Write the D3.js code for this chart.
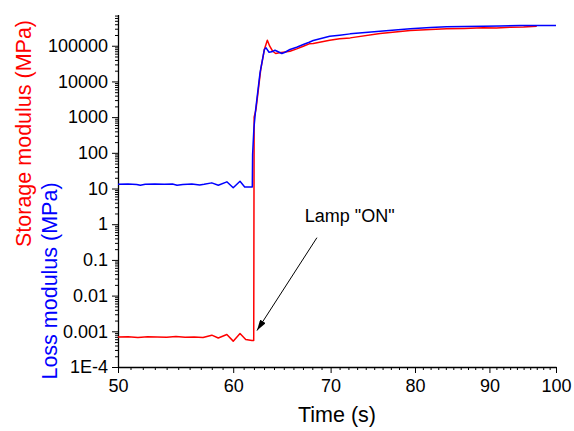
<!DOCTYPE html>
<html>
<head>
<meta charset="utf-8">
<script src="https://cdn.jsdelivr.net/npm/d3@7"></script>
<style>
  html, body { margin: 0; padding: 0; background: #fff; }
  svg { display: block; font-family: "Liberation Sans", Arial, sans-serif; }
</style>
</head>
<body>
<svg id="chart" width="574" height="431"></svg>
<script>
// Storage modulus E' (MPa) versus time (s)
const storageTime = [50, 50.8, 51.6, 52.4, 53.2, 54.0, 54.8, 55.6, 56.4, 57.2, 58.0, 58.6, 59.4, 60.0, 60.65, 61.2, 61.8, 61.98,
  62.02, 62.2, 62.67, 63.03, 63.33, 63.57, 63.87, 64.17, 64.55, 64.96, 65.64, 66.34, 67.04, 67.67, 68.1, 69.9, 71.0,
  72.2, 75.7, 79.4, 82.0, 84.1, 86.5, 89.1, 91.0, 93.0, 95.0, 97.0];
const storageModulus = [6.9e-4, 7.0e-4, 6.7e-4, 7.0e-4, 6.9e-4, 6.8e-4, 7.1e-4, 6.8e-4, 6.9e-4, 6.7e-4, 7.8e-4, 6.5e-4, 8.1e-4, 5.3e-4, 8.7e-4, 5.9e-4, 5.5e-4, 5.5e-4,
  1000, 1630, 21500, 78300, 142600, 96800, 70100, 60500, 63200, 65800, 70100, 81800, 96800, 113000, 115000, 142600, 158000,
  166000, 220000, 267000, 285000, 297000, 305000, 317000, 312000, 330000, 335000, 351000];

// Loss modulus E'' (MPa) versus time (s)
const lossTime = [50, 50.8, 51.5, 51.8, 52.2, 53.0, 53.8, 54.5, 54.9, 55.4, 56.2, 56.9, 57.3, 58.0, 58.6, 59.4, 60.0, 60.65, 61.1, 61.84,
  61.87, 62.0, 62.17, 62.6, 63.03, 63.2, 63.5, 63.77, 64.1, 64.8, 65.13, 65.64, 66.34, 67.04, 67.67, 68.1, 69.9, 71.0,
  72.2, 75.7, 79.4, 82.0, 84.1, 86.5, 89.1, 91.5, 94.5, 97.0, 100];
const lossModulus = [13.2, 13.4, 13.0, 12.3, 13.1, 13.3, 13.2, 13.4, 12.4, 13.0, 13.3, 12.6, 13.1, 14.4, 12.4, 15.4, 10.5, 16.0, 11.1, 11.1,
  90, 500, 1620, 17400, 78300, 87400, 65800, 67500, 74800, 60500, 65800, 78300, 90800, 108000, 125000, 140000, 184000, 197000,
  215000, 255000, 297000, 322000, 338000, 345000, 351000, 360000, 368000, 366000, 370000];

// Axis ticks
const xTicks = [50, 60, 70, 80, 90, 100];
const xTickLabels = ["50", "60", "70", "80", "90", "100"];
const yTicks = [1e-4, 1e-3, 1e-2, 1e-1, 1, 10, 100, 1000, 10000, 100000];
const yTickLabels = ["1E-4", "0.001", "0.01", "0.1", "1", "10", "100", "1000", "10000", "100000"];

// Annotation: label anchor, arrow start and arrow tip in data units [time, modulus]
const lampLabel = "Lamp \"ON\"";
const lampText = [67.2, 1.19];
const lampArrowFrom = [68.5, 0.42];
const lampArrowTo = [62.3, 1.05e-3];

const svg = d3.select("#chart");

const x = d3.scaleLog().domain([50, 100]).range([118, 556]);
const y = d3.scaleLog().domain([1e-4, 7.5e5]).range([367, 14.5]);

// minor ticks: every second on x, 2..9 per decade on y
const xMinor = d3.range(51, 100).filter(t => t % 10 !== 0);
const yMinor = [];
for (let e = -4; e <= 5; e++) {
  for (let m = 2; m <= 9; m++) {
    const v = m * Math.pow(10, e);
    if (v <= 7.5e5) yMinor.push(v);
  }
}

const axisColor = "#000";

// y axis
const gy = svg.append("g").attr("transform", "translate(118,0)");
gy.call(d3.axisLeft(y).tickValues(yMinor).tickSize(3).tickSizeOuter(0).tickFormat(""));
gy.call(g => g.select(".domain").remove());
const gyMajor = svg.append("g").attr("transform", "translate(118,0)");
gyMajor.call(d3.axisLeft(y).tickValues(yTicks).tickSize(6).tickSizeOuter(0).tickPadding(4)
  .tickFormat((d, i) => yTickLabels[i]));

// x axis
const gx = svg.append("g").attr("transform", "translate(0,367)");
gx.call(d3.axisBottom(x).tickValues(xMinor).tickSize(3).tickSizeOuter(0).tickFormat(""));
gx.call(g => g.select(".domain").remove());
const gxMajor = svg.append("g").attr("transform", "translate(0,367)");
gxMajor.call(d3.axisBottom(x).tickValues(xTicks).tickSize(6).tickSizeOuter(0).tickPadding(6)
  .tickFormat((d, i) => xTickLabels[i]));

svg.selectAll(".tick line").attr("stroke", axisColor).attr("stroke-width", 1);
svg.selectAll(".domain").attr("stroke", axisColor).attr("stroke-width", 1.3);
svg.selectAll(".tick text")
  .attr("fill", "#000")
  .style("font-size", "18px")
  .style("font-family", "'Liberation Sans', Arial, sans-serif");

// data lines
const line = d3.line().x(d => x(d[0])).y(d => y(d[1]));
const storagePts = storageTime.map((t, i) => [t, storageModulus[i]]);
const lossPts = lossTime.map((t, i) => [t, lossModulus[i]]);

svg.append("path").datum(storagePts)
  .attr("d", line).attr("fill", "none")
  .attr("stroke", "#ff0000").attr("stroke-width", 1.5).attr("stroke-linejoin", "round");
svg.append("path").datum(lossPts)
  .attr("d", line).attr("fill", "none")
  .attr("stroke", "#0000ff").attr("stroke-width", 1.5).attr("stroke-linejoin", "round");

// axis titles
svg.append("text")
  .attr("x", 337).attr("y", 422)
  .attr("text-anchor", "middle")
  .style("font-size", "21.5px")
  .attr("fill", "#000")
  .text("Time (s)");

svg.append("text")
  .attr("transform", "translate(31,133.5) rotate(-90)")
  .attr("text-anchor", "middle")
  .style("font-size", "21.5px")
  .attr("fill", "#ff0000")
  .text("Storage modulus (MPa)");

svg.append("text")
  .attr("transform", "translate(57,281) rotate(-90)")
  .attr("text-anchor", "middle")
  .style("font-size", "21.5px")
  .attr("fill", "#0000ff")
  .text("Loss modulus (MPa)");

// annotation arrow
svg.append("defs").append("marker")
  .attr("id", "arrowhead")
  .attr("markerUnits", "userSpaceOnUse")
  .attr("viewBox", "0 0 10 6")
  .attr("refX", 10).attr("refY", 3)
  .attr("markerWidth", 11).attr("markerHeight", 6.5)
  .attr("orient", "auto")
  .append("path").attr("d", "M0,0 L10,3 L0,6 Z").attr("fill", "#000");

svg.append("line")
  .attr("x1", x(lampArrowFrom[0])).attr("y1", y(lampArrowFrom[1]))
  .attr("x2", x(lampArrowTo[0])).attr("y2", y(lampArrowTo[1]))
  .attr("stroke", "#000").attr("stroke-width", 1)
  .attr("marker-end", "url(#arrowhead)");

svg.append("text")
  .attr("x", x(lampText[0])).attr("y", y(lampText[1]))
  .style("font-size", "18px")
  .attr("fill", "#000")
  .text(lampLabel);
</script>
</body>
</html>
